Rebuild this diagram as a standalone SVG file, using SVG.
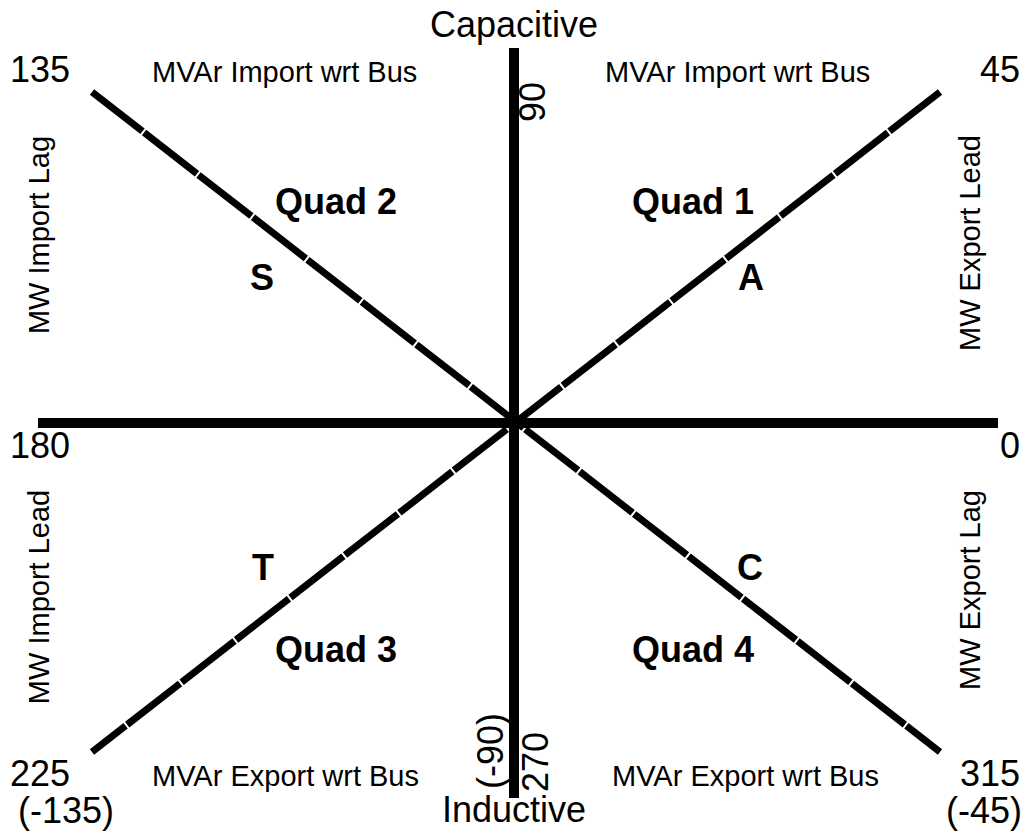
<svg xmlns="http://www.w3.org/2000/svg" width="1033" height="838" viewBox="0 0 1033 838">
  <style>
    text { font-family: "Liberation Sans", Arial, sans-serif; fill: #000; }
    .big { font-size: 36px; }
    .mid { font-size: 29px; }
    .bold { font-size: 36px; font-weight: bold; }
    .axis { stroke: #000; stroke-width: 10; fill: none; }
    .diag { stroke: #000; stroke-width: 7; fill: none; stroke-dasharray: 67 2; stroke-dashoffset: 3; }
  </style>
  <rect width="1033" height="838" fill="#fff"/>

  <!-- axes and diagonal quadrant dividers -->
  <g id="connectors">
    <line class="diag" x1="92" y1="92" x2="940" y2="752"/>
    <line class="diag" x1="940" y1="92" x2="92" y2="752"/>
    <line class="axis" x1="38" y1="423" x2="998" y2="423"/>
    <line class="axis" x1="514" y1="48" x2="514" y2="798"/>
  </g>

  <!-- axis ends -->
  <g id="capacitive"><text class="big" x="514" y="37" text-anchor="middle">Capacitive</text></g>
  <g id="inductive"><text class="big" x="514" y="822" text-anchor="middle">Inductive</text></g>
  <g id="deg90"><text class="big" transform="translate(545,102) rotate(-90)" text-anchor="middle">90</text></g>
  <g id="deg270"><text class="big" transform="translate(548,762) rotate(-90)" text-anchor="middle">270</text></g>
  <g id="degm90"><text class="big" transform="translate(503,751) rotate(-90)" text-anchor="middle">(-90)</text></g>
  <g id="deg180"><text class="big" x="10" y="458">180</text></g>
  <g id="deg0"><text class="big" x="1020" y="458" text-anchor="end">0</text></g>

  <!-- corner angles -->
  <g id="deg135"><text class="big" x="10" y="82">135</text></g>
  <g id="deg45"><text class="big" x="1020" y="82" text-anchor="end">45</text></g>
  <g id="deg225"><text class="big" x="10" y="786">225</text><text class="big" x="18" y="823">(-135)</text></g>
  <g id="deg315"><text class="big" x="1020" y="786" text-anchor="end">315</text><text class="big" x="1022" y="823" text-anchor="end">(-45)</text></g>

  <!-- flow descriptions -->
  <g id="mvar-import-left"><text class="mid" x="152" y="82">MVAr Import wrt Bus</text></g>
  <g id="mvar-import-right"><text class="mid" x="605" y="82">MVAr Import wrt Bus</text></g>
  <g id="mvar-export-left"><text class="mid" x="152" y="786">MVAr Export wrt Bus</text></g>
  <g id="mvar-export-right"><text class="mid" x="612" y="786">MVAr Export wrt Bus</text></g>
  <g id="mw-import-lag"><text class="mid" transform="translate(49,235) rotate(-90)" text-anchor="middle">MW Import Lag</text></g>
  <g id="mw-export-lead"><text class="mid" transform="translate(980,243) rotate(-90)" text-anchor="middle">MW Export Lead</text></g>
  <g id="mw-import-lead"><text class="mid" transform="translate(49,597) rotate(-90)" text-anchor="middle">MW Import Lead</text></g>
  <g id="mw-export-lag"><text class="mid" transform="translate(980,590) rotate(-90)" text-anchor="middle">MW Export Lag</text></g>

  <!-- quadrants -->
  <g id="quad1"><text class="bold" x="632" y="214">Quad 1</text><text class="bold" x="738" y="290">A</text></g>
  <g id="quad2"><text class="bold" x="275" y="214">Quad 2</text><text class="bold" x="250" y="290">S</text></g>
  <g id="quad3"><text class="bold" x="275" y="662">Quad 3</text><text class="bold" x="252" y="580">T</text></g>
  <g id="quad4"><text class="bold" x="632" y="662">Quad 4</text><text class="bold" x="737" y="580">C</text></g>
</svg>
